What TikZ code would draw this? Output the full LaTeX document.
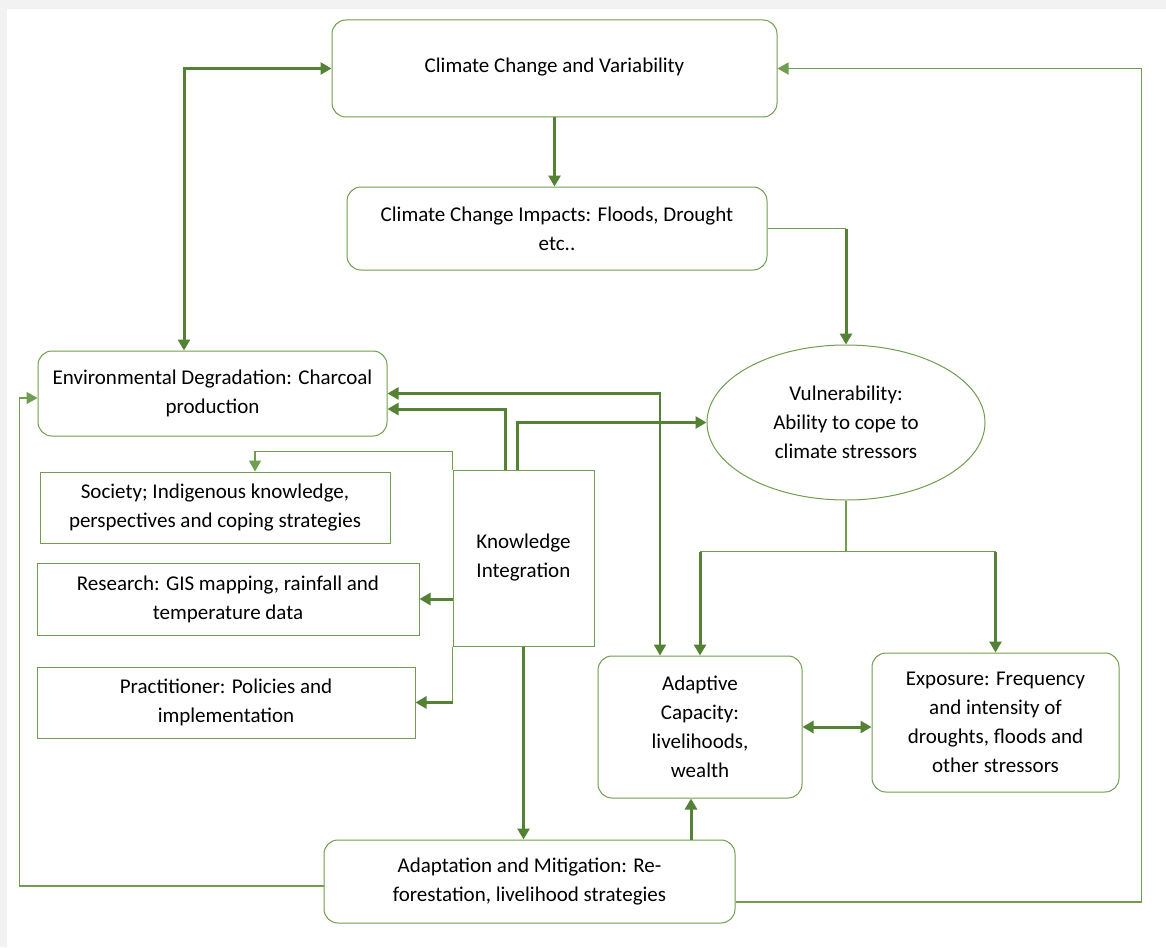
\documentclass[tikz,border=0pt]{standalone}
\usepackage{fontspec}
\setmainfont{Carlito}
\usetikzlibrary{arrows.meta,positioning,shapes.geometric,calc}
\definecolor{boxgreen}{RGB}{112,158,78}
\definecolor{arrgreen}{RGB}{84,130,53}

\begin{document}
\begin{tikzpicture}[x=1pt,y=-1pt,
  every node/.style={font=\fontsize{21}{29}\selectfont,align=center,inner sep=0pt},
  rbox/.style={draw=boxgreen,line width=1pt,rounded corners=14pt},
  sbox/.style={draw=boxgreen,line width=1pt},
  tip/.style={-{Triangle[length=11pt,width=12pt]}},
  arr/.style={draw=arrgreen,line width=3pt,tip},
  dbl/.style={draw=arrgreen,line width=3pt,{Triangle[length=11pt,width=12pt]}-{Triangle[length=11pt,width=12pt]}},
  lin/.style={draw=boxgreen,line width=1.5pt}]

\fill[gray!10] (0,0) rectangle (1166,947);
\fill[white] (7,9) rectangle (1166,947);
\useasboundingbox (0,0) rectangle (1166,947);

% boxes
\node[rbox,minimum width=445pt,minimum height=97pt] (ccv) at (554.5,68.5) {\raisebox{6pt}{Climate Change and Variability}};
\node[rbox,minimum width=420pt,minimum height=83pt] (imp) at (557,228.5) {Climate Change Impacts: Floods, Drought\\etc..};
\node[rbox,minimum width=349pt,minimum height=85pt] (env) at (212.5,393.5) {Environmental Degradation: Charcoal\\production};
\node[ellipse,draw=boxgreen,line width=1pt,minimum width=278pt,minimum height=155pt] (vul) at (846,422.5) {Vulnerability:\\Ability to cope to\\climate stressors};
\node[sbox,minimum width=350pt,minimum height=71pt] (soc) at (215,507.5) {Society; Indigenous knowledge,\\perspectives and coping strategies};
\node[sbox,minimum width=382pt,minimum height=72pt] (res) at (228,599) {Research: GIS mapping, rainfall and\\temperature data};
\node[sbox,minimum width=378pt,minimum height=71pt] (prac) at (226,702.5) {Practitioner: Policies and\\implementation};
\node[sbox,minimum width=141pt,minimum height=176pt,align=left] (ki) at (523.5,558) {Knowledge\\Integration};
\node[rbox,minimum width=204pt,minimum height=142pt] (adc) at (700,727) {Adaptive\\Capacity:\\livelihoods,\\wealth};
\node[rbox,minimum width=247pt,minimum height=139pt] (exp) at (995.5,722.5) {Exposure: Frequency\\and intensity of\\droughts, floods and\\other stressors};
\node[rbox,minimum width=411pt,minimum height=83pt] (am) at (529.5,881.5) {Adaptation and Mitigation: Re-\\forestation, livelihood strategies};

% top part
\draw[dbl] ([xshift=-28.5pt]env.north) |- (ccv.west);
\draw[arr] (ccv.south) -- (ccv.south |- imp.north);
\draw[lin] (imp.east) -- (imp.east -| vul.north);
\draw[arr] (imp.east -| vul.north) -- (vul.north);

% knowledge integration
\draw[arr] ([xshift=-18.5pt]ki.north) |- ([yshift=-15.5pt]env.east);
\draw[arr] ([xshift=-6.5pt]ki.north) |- (vul.west);
\draw[dbl,line width=2.2pt] (env.east) -| ([xshift=-40pt]adc.north);
\draw[lin,tip] (ki.north west) -- ++(0,-18) -| ([xshift=40pt]soc.north);
\draw[lin] (ki.south west) -- (ki.west |- prac.east);
\draw[arr] (ki.west |- res.east) -- (res.east);
\draw[arr] (ki.west |- prac.east) -- (prac.east);
\draw[arr] (ki.south) -- (ki.south |- am.north);

% vulnerability
\draw[lin] (vul.south) -- ++(0,51) coordinate (vb);
\draw[lin] (vb -| adc.north) -- (vb -| exp.north);
\draw[arr] (vb -| adc.north) -- (adc.north);
\draw[arr] (vb -| exp.north) -- (exp.north);
\draw[dbl] (adc.east) -- (adc.east -| exp.west);
\draw[arr] ([xshift=161.5pt]am.north) -- ([xshift=161.5pt]am.north |- adc.south);

% feedback loops
\draw[lin,tip] ([yshift=-4.5pt]am.west) -| ([xshift=-18pt,yshift=-4.5pt]env.west) -- ([yshift=-4.5pt]env.west);
\draw[lin,tip] ([yshift=-20.5pt]am.east) -| ([xshift=364pt]ccv.east) -- (ccv.east);
\end{tikzpicture}
\end{document}
